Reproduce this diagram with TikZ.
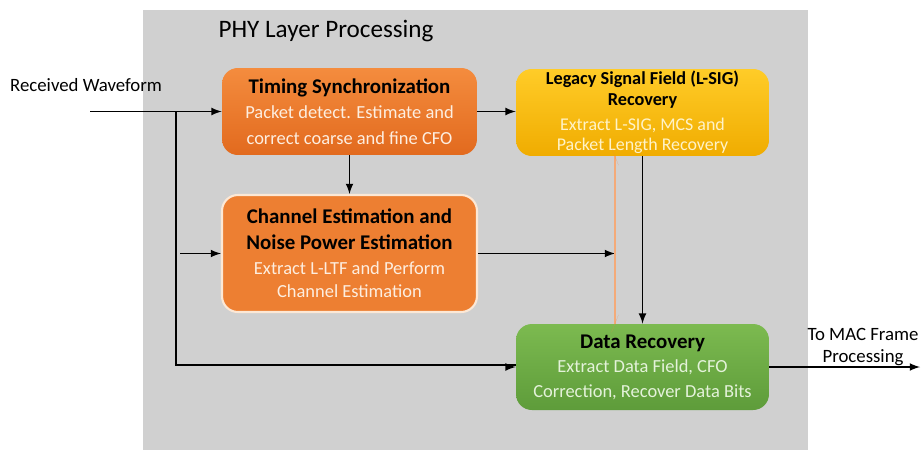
\documentclass[tikz,border=0pt]{standalone}
\usepackage{fontspec}
\setmainfont{Carlito}
\definecolor{panelgray}{RGB}{208,208,208}
\definecolor{orgtop}{RGB}{244,140,62}
\definecolor{orgbot}{RGB}{226,106,30}
\definecolor{orgflat}{RGB}{237,127,50}
\definecolor{orgrim}{RGB}{252,232,214}
\definecolor{goldtop}{RGB}{255,204,40}
\definecolor{goldbot}{RGB}{240,172,0}
\definecolor{grntop}{RGB}{124,186,80}
\definecolor{grnbot}{RGB}{94,156,58}
\definecolor{subwhite}{RGB}{253,238,224}
\definecolor{subyellow}{RGB}{255,243,200}
\definecolor{subgreen}{RGB}{228,242,218}
\definecolor{tapline}{RGB}{244,170,120}
\definecolor{taptip}{RGB}{240,130,70}
\begin{document}
\begin{tikzpicture}[x=0.02cm,y=-0.02cm,>=latex,
  box/.style={rounded corners=9pt,align=center,inner sep=0pt},
  link/.style={line width=1pt}]

\useasboundingbox (0,0) rectangle (922,450);
\fill [panelgray] (143,10) rectangle (808,450);

\node [font=\fontsize{14.3}{17}\selectfont] (title) at (326,31) {PHY Layer Processing};

\node [box,top color=orgtop,bottom color=orgbot,minimum width=5.1cm,minimum height=1.74cm,
  font=\fontsize{10.5}{14.5}\selectfont]
  (timing) at (349.5,111.5)
  {{\bfseries\fontsize{11.9}{14.5}\selectfont Timing Synchronization}\\
   \color{subwhite}Packet detect. Estimate and\\
   \color{subwhite}correct coarse and fine CFO};

\node [box,fill=orgflat,draw=orgrim,line width=1.2pt,minimum width=5.1cm,minimum height=2.34cm,
  font=\fontsize{10.5}{14.5}\selectfont]
  (chan) at (349.5,253.5)
  {{\bfseries\fontsize{11.9}{14.5}\selectfont Channel Estimation and}\\
   {\bfseries\fontsize{11.9}{14.5}\selectfont Noise Power Estimation}\\
   \color{subwhite}Extract L-LTF and Perform\\[-1.2pt]
   \color{subwhite}Channel Estimation};

\node [box,top color=goldtop,bottom color=goldbot,minimum width=5.06cm,minimum height=1.74cm,
  font=\fontsize{10.2}{11.6}\selectfont]
  (lsig) at (642.5,112.5)
  {{\bfseries\fontsize{10.4}{11.6}\selectfont Legacy Signal Field (L-SIG)}\\
   {\bfseries\fontsize{10.4}{11.6}\selectfont Recovery}\\[2.8pt]
   \color{subyellow}Extract L-SIG, MCS and\\
   \color{subyellow}Packet Length Recovery};

\node [box,top color=grntop,bottom color=grnbot,minimum width=5.06cm,minimum height=1.72cm,
  font=\fontsize{10.5}{14}\selectfont]
  (data) at (642.5,367)
  {{\bfseries\fontsize{11.9}{14}\selectfont Data Recovery}\\
   \color{subgreen}Extract Data Field, CFO\\
   \color{subgreen}Correction, Recover Data Bits};

\node [font=\fontsize{10.7}{13}\selectfont] (rxlabel) at (86,85) {Received Waveform};
\node [align=center,font=\fontsize{10.7}{12.5}\selectfont] (maclabel) at (863,347) {To MAC Frame\\Processing};

\coordinate (rxin) at (90,111.5);
\coordinate (split) at (176,111.5);
\coordinate (chin) at (180,253.5);
\coordinate (macout) at (920,367);
\coordinate (tapup) at ([xshift=-0.55cm]lsig.south);
\coordinate (tapdn) at ([xshift=-0.55cm]data.north);

\draw [link,->] (rxin) -- (timing.west);
\draw [link] (split) |- ([yshift=1pt]data.west);
\draw [link,->] ([xshift=-3pt]data.west) -- (data.west);
\draw [link,->] (chin) -- (chan.west);
\draw [link,->] (timing.south) -- (chan.north);
\draw [link,->] (timing.east) -- (timing.east -| lsig.west);
\draw [link,->] (lsig.south) -- (data.north);
\draw [link,->] (chan.east) -- (chan.east -| tapup);
\draw [tapline,line width=0.6pt] (tapup) -- (tapdn);
\fill [taptip] (tapup) ++(-2pt,5pt) -- (tapup) -- ++(2pt,-5pt) -- cycle;
\fill [taptip] (tapdn) ++(-2pt,-5pt) -- (tapdn) -- ++(2pt,5pt) -- cycle;
\draw [link,->] (data.east) -- (macout);

\end{tikzpicture}
\end{document}
